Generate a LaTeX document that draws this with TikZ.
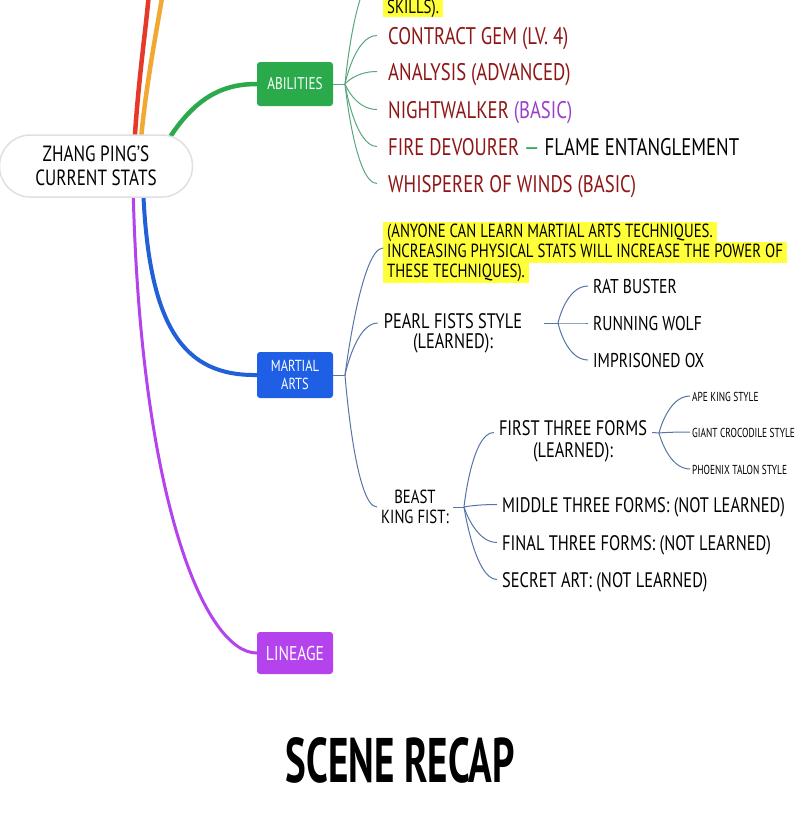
\documentclass[tikz,border=0pt]{standalone}
\usepackage{fontspec}
\setmainfont{PT Sans}[FakeStretch=0.78]
\newfontfamily\titlefont{PT Sans}[FakeStretch=0.62]
\newfontfamily\narrowfont{PT Sans}[FakeStretch=0.72]
\usetikzlibrary{calc}
\definecolor{cred}{HTML}{E53A2A}
\definecolor{corange}{HTML}{F2A933}
\definecolor{cgreen}{HTML}{2BAA4C}
\definecolor{cblue}{HTML}{2260D8}
\definecolor{nblue}{HTML}{1E5FE6}
\definecolor{cpurple}{HTML}{B443EE}
\definecolor{dred}{HTML}{8E1616}
\definecolor{bpurple}{HTML}{9B3FC9}
\definecolor{acon}{HTML}{5AA77E}
\definecolor{mcon}{HTML}{5677A6}
\definecolor{hl}{HTML}{FFFF3A}
\begin{document}
\begin{tikzpicture}[x=1pt,y=-1pt,
  fan/.style={to path={.. controls (\tikztostart) and ($(\tikztotarget)+(-22,0)$) .. (\tikztotarget)}},
  branch/.style={line width=4.5pt, line cap=round},
  aline/.style={draw=acon, line width=1pt},
  mline/.style={draw=mcon, line width=1pt},
  cat/.style={rounded corners=3pt, text=white, minimum width=76pt, inner sep=2pt, align=center},
  aitem/.style={anchor=base west, inner xsep=11pt, inner ysep=0pt, text height=17pt, text depth=0pt, font=\fontsize{24}{28}\selectfont, text=dred},
  note/.style={anchor=base west, fill=hl, inner xsep=4pt, inner ysep=1.5pt, text height=14pt, text depth=4pt, font=\fontsize{19}{20}\selectfont},
  pitem/.style={anchor=base west, inner xsep=5pt, inner ysep=0pt, text height=14pt, text depth=0pt, font=\fontsize{20}{22}\selectfont},
  bitem/.style={anchor=base west, inner xsep=5pt, inner ysep=0pt, text height=15pt, text depth=0pt, font=\fontsize{21}{22}\selectfont},
  sitem/.style={anchor=base west, inner xsep=2pt, inner ysep=0pt, text height=10pt, text depth=0pt, font=\narrowfont\fontsize{13}{15}\selectfont},
]
\useasboundingbox[fill=white] (0,0) rectangle (800,820);
\clip (0,0) rectangle (800,820);

% category nodes
\node[cat, fill=cgreen, minimum height=44pt, font=\fontsize{17}{19}\selectfont] (abil) at (295,84) {ABILITIES};
\node[cat, fill=nblue, minimum height=46pt, font=\fontsize{16}{18}\selectfont] (mart) at (295,375) {MARTIAL\\ARTS};
\node[cat, fill=cpurple, minimum height=42pt, font=\fontsize{20}{22}\selectfont] (lin) at (295,653) {LINEAGE};

% main branches
\coordinate (rs) at (134,150);
\coordinate (os) at (140,150);
\coordinate (gs) at (165,145);
\coordinate (bs) at (143,185);
\coordinate (ps) at (133,185);
\coordinate (redtop) at (149,-8);
\coordinate (orangetop) at (163,-8);
\draw[branch, cred] (rs) .. controls (138,80) and (146,30) .. (redtop);
\draw[branch, corange] (os) .. controls (145,90) and (155,40) .. (orangetop);
\draw[branch, cgreen] (gs) .. controls (195,95) and (225,84) .. (abil.west);
\draw[branch, cblue, line width=4pt] (bs) .. controls (148,330) and (185,376) .. (mart.west);
\draw[branch, cpurple, line width=3pt] (ps) .. controls (140,500) and (205,653) .. (lin.west);

% root
\node[draw=black!12, line width=1.5pt, fill=white, rounded corners=31pt, minimum width=193pt, minimum height=62pt, align=center, font=\fontsize{22}{24}\selectfont] (root) at (96,166) {ZHANG PING’S\\CURRENT STATS};

% abilities children
\coordinate (af) at (345,84);
\coordinate (skilltop) at (377,-25);
\node[note, text height=12pt, text depth=2pt] (skills) at (383,13.5) {SKILLS).};
\node[aitem] (a1) at (377,44) {CONTRACT GEM (LV. 4)};
\node[aitem] (a2) at (377,80) {ANALYSIS (ADVANCED)};
\node[aitem] (a3) at (377,118) {NIGHTWALKER \textcolor{bpurple}{(BASIC)}};
\node[aitem] (a4) at (377,155) {FIRE DEVOURER \textcolor{cgreen}{—} \textcolor{black}{FLAME ENTANGLEMENT}};
\node[aitem] (a5) at (377,192) {WHISPERER OF WINDS (BASIC)};
\draw[aline] (abil.east) -- (af);
\foreach \t in {skilltop,a1.west,a2.west,a3.west,a4.west,a5.west}
  \draw[aline] (af) to[fan] (\t);

% martial arts children
\coordinate (mf) at (345,375);
\draw[mline] (mart.east) -- (mf);
\node[note] (n1) at (383,237) {(ANYONE CAN LEARN MARTIAL ARTS TECHNIQUES.};
\node[note] (n2) at (383,257) {INCREASING PHYSICAL STATS WILL INCREASE THE POWER OF};
\node[note] (n3) at (383,277) {THESE TECHNIQUES).};
\node[align=center, inner xsep=6pt, font=\fontsize{21}{20}\selectfont] (pearl) at (453,333) {PEARL FISTS STYLE\\(LEARNED):};
\node[align=center, inner xsep=4pt, font=\fontsize{19}{20}\selectfont] (beast) at (415,507) {BEAST\\KING FIST:};
\draw[mline] (mf) to[fan] ([yshift=4pt]n2.west);
\draw[mline] (mf) to[fan] ([yshift=10pt]pearl.west);
\draw[mline] (mf) to[fan] (beast.west);

% pearl fists children
\coordinate (pf) at (558,323);
\draw[mline] ([xshift=16pt,yshift=10pt]pearl.east) -- (pf);
\node[pitem] (p1) at (588,293) {RAT BUSTER};
\node[pitem] (p2) at (588,330) {RUNNING WOLF};
\node[pitem] (p3) at (588,367) {IMPRISONED OX};
\foreach \t in {p1,p2,p3}
  \draw[mline] (pf) to[fan] (\t.west);

% beast king fist children
\coordinate (bf) at (464,507);
\draw[mline] (beast.east) -- (bf);
\node[align=center, inner xsep=5pt, font=\fontsize{21}{22}\selectfont] (first) at (573,441) {FIRST THREE FORMS\\(LEARNED):};
\node[bitem] (b2) at (497,512) {MIDDLE THREE FORMS: (NOT LEARNED)};
\node[bitem] (b3) at (497,550) {FINAL THREE FORMS: (NOT LEARNED)};
\node[bitem] (b4) at (497,587) {SECRET ART: (NOT LEARNED)};
\draw[mline] (bf) to[fan] ([yshift=8.5pt]first.west);
\foreach \t in {b2,b3,b4}
  \draw[mline] (bf) to[fan] (\t.west);

% first three forms children
\coordinate (ff) at (659,433);
\draw[mline] ([yshift=8.5pt]first.east) -- (ff);
\node[sitem] (s1) at (690,401) {APE KING STYLE};
\node[sitem] (s2) at (690,437) {GIANT CROCODILE STYLE};
\node[sitem] (s3) at (690,474) {PHOENIX TALON STYLE};
\foreach \t in {s1,s2,s3}
  \draw[mline] (ff) to[fan] (\t.west);

% title
\node[font=\titlefont\bfseries\fontsize{63}{70}\selectfont] (title) at (400,760) {SCENE RECAP};
\end{tikzpicture}
\end{document}
